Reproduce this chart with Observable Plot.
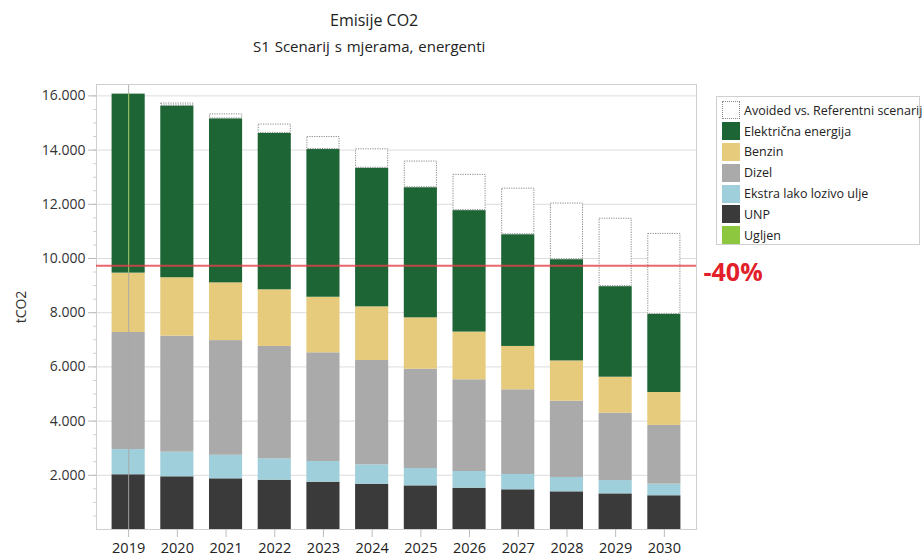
<!DOCTYPE html>
<html>
<head>
<meta charset="utf-8">
<script src="https://cdn.jsdelivr.net/npm/d3@7"></script>
<script src="https://cdn.jsdelivr.net/npm/@observablehq/plot@0.6"></script>
<style>
  html, body { margin: 0; padding: 0; background: #fff; }
  #wrap { position: relative; width: 922px; height: 558px; font-family: "Open Sans", sans-serif; color: #222; }
  #title { position: absolute; left: 330px; top: 9px; font-size: 16px; white-space: nowrap; }
  #subtitle { position: absolute; left: 253px; top: 36px; font-size: 15px; white-space: nowrap; word-spacing: 1px; }
  #legend { position: absolute; left: 716px; top: 96px; width: 204px; height: 149px; border: 1px solid #cfcfcf; box-sizing: border-box; padding: 3px 0 0 5px; }
  .li { display: flex; align-items: center; height: 20.8px; font-size: 12.5px; white-space: nowrap; }
  .sw { width: 18px; height: 18px; margin-right: 4px; box-sizing: border-box; flex: none; }
  #chart { position: absolute; left: 0; top: 0; }
</style>
</head>
<body>
<div id="wrap">
  <div id="chart"></div>
  <div id="title">Emisije CO2</div>
  <div id="subtitle">S1 Scenarij s mjerama, energenti</div>
  <div id="legend"></div>
</div>
<script>
// ---- data (tCO2) ----
const years = ["2019","2020","2021","2022","2023","2024","2025","2026","2027","2028","2029","2030"];
const seriesNames = ["Ugljen","UNP","Ekstra lako lozivo ulje","Dizel","Benzin","Električna energija"];
const ugljen  = [0,0,0,0,0,0,0,0,0,0,0,0];
const unp     = [2020,1945,1870,1820,1745,1670,1610,1525,1465,1390,1315,1245];
const ekstra  = [930,910,870,790,765,715,640,615,565,530,490,430];
const dizel   = [4320,4280,4230,4145,4010,3850,3665,3385,3125,2815,2485,2165];
const benzin  = [2190,2155,2130,2090,2050,1980,1895,1760,1600,1485,1330,1215];
const elektr  = [6605,6335,6050,5770,5450,5115,4800,4480,4120,3735,3340,2885];
const avoided = [0,110,185,345,480,715,985,1340,1720,2090,2525,2985];
const avoidedName = "Avoided vs. Referentni scenarij";
const target = 9730;        // -40% line
const targetLabel = "-40%";
const yTicks = [2000,4000,6000,8000,10000,12000,14000,16000];
const legendOrder = [avoidedName,"Električna energija","Benzin","Dizel","Ekstra lako lozivo ulje","UNP","Ugljen"];
const colors = {
  "Ugljen": "#8dc63f",
  "UNP": "#3b3a3a",
  "Ekstra lako lozivo ulje": "#9fcfda",
  "Dizel": "#aaaaaa",
  "Benzin": "#e6cb7c",
  "Električna energija": "#1d6535"
};

const valuesBySeries = {"Ugljen": ugljen, "UNP": unp, "Ekstra lako lozivo ulje": ekstra, "Dizel": dizel, "Benzin": benzin, "Električna energija": elektr};
const rows = [];
for (const s of seriesNames) years.forEach((y, i) => rows.push({year: y, series: s, value: valuesBySeries[s][i]}));
const totals = years.map((y, i) => seriesNames.reduce((a, s) => a + valuesBySeries[s][i], 0));
const avoidedRows = years.map((y, i) => ({year: y, y1: totals[i], y2: totals[i] + avoided[i], v: avoided[i]})).filter(d => d.v > 0);
// highlight line in the first year: light green over the electricity segment
const hiRows = [{year: years[0], y1: totals[0] - elektr[0], y2: totals[0]}];

const fmt = d => d3.format(",")(d).replace(/,/g, ".");

const chart = Plot.plot({
  width: 922,
  height: 558,
  marginTop: 84,
  marginBottom: 29,
  marginLeft: 96,
  marginRight: 226,
  style: {fontFamily: "Open Sans, sans-serif", fontSize: "14px", color: "#333", background: "white"},
  x: {domain: years, padding: 0.32, round: false},
  y: {domain: [0, 16420]},
  color: {domain: seriesNames, range: seriesNames.map(s => colors[s])},
  marks: [
    Plot.gridY(yTicks, {stroke: "#dcdcdc", strokeOpacity: 1}),
    Plot.barY(rows, Plot.stackY({x: "year", y: "value", z: "series", fill: "series", order: seriesNames})),
    Plot.barY(avoidedRows, {x: "year", y1: "y1", y2: "y2", fill: "white", stroke: "#8a8a8a", strokeDasharray: "1.2,1.2", strokeWidth: 1, inset: 0.5}),
    Plot.ruleX([years[0]], {stroke: "#a8a8a8", strokeOpacity: 0.9, strokeWidth: 1}),
    Plot.ruleX(hiRows, {x: "year", y1: "y1", y2: "y2", stroke: "#8fc155", strokeWidth: 1}),
    Plot.frame({stroke: "#cfcfcf"}),
    Plot.ruleY([target], {stroke: "#e5404a", strokeWidth: 2, strokeOpacity: 0.8}),
    Plot.text([targetLabel], {y: [target], frameAnchor: "right", dx: 7, dy: 7, textAnchor: "start", fill: "#e2202a", fontSize: 25, fontWeight: "bold"}),
    Plot.axisY(d3.range(500, 16001, 500), {tickSize: 3, text: null, stroke: "#d0d0d0"}),
    Plot.axisY(yTicks, {tickSize: 8, tickPadding: 3, tickFormat: fmt, stroke: "#bbb", fill: "#333", label: "tCO2", labelAnchor: "center", labelOffset: 80, labelArrow: "none"}),
    Plot.axisX({tickSize: 8, tickPadding: 5, stroke: "#bbb", fill: "#222", label: null, fontSize: 14.5})
  ]
});
document.getElementById("chart").appendChild(chart);

// legend
const leg = document.getElementById("legend");
for (const name of legendOrder) {
  const row = document.createElement("div");
  row.className = "li";
  const sw = document.createElement("div");
  sw.className = "sw";
  if (name === avoidedName) {
    sw.style.background = "#fff";
    sw.style.border = "1px dotted #888";
  } else {
    sw.style.background = colors[name];
  }
  const t = document.createElement("span");
  t.textContent = name;
  row.appendChild(sw);
  row.appendChild(t);
  leg.appendChild(row);
}
</script>
</body>
</html>
